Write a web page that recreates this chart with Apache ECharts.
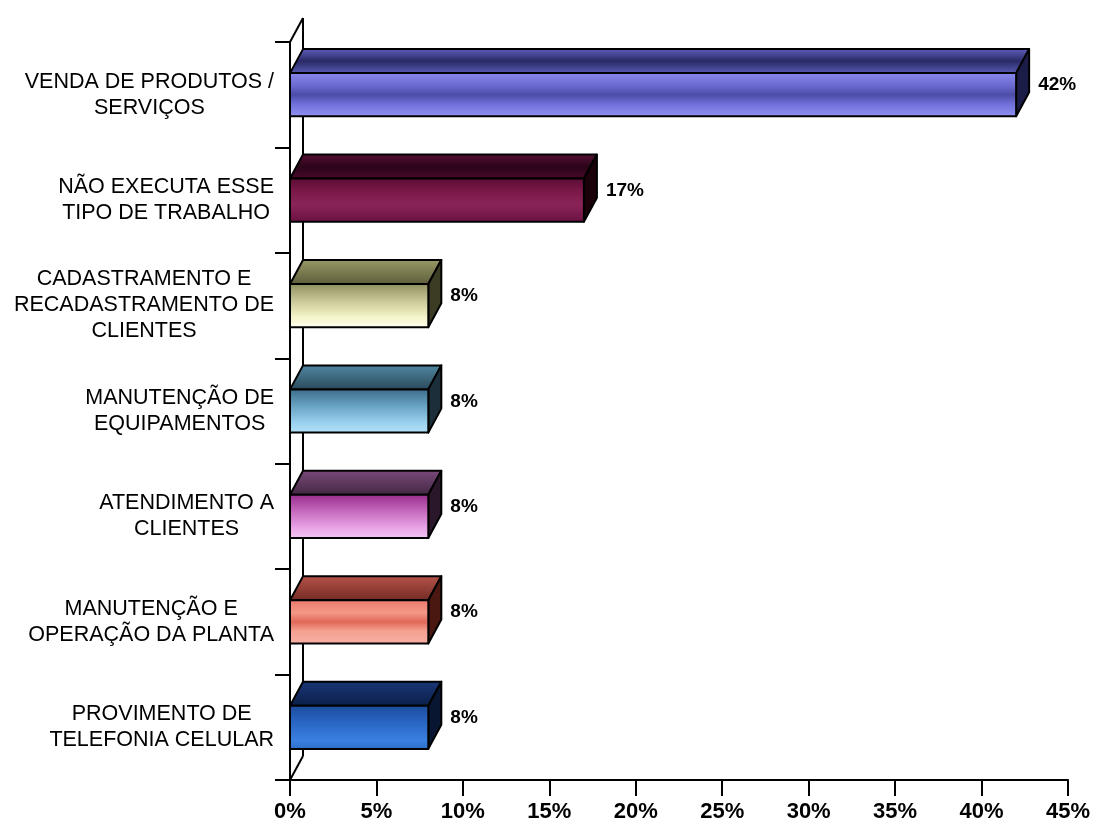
<!DOCTYPE html>
<html>
<head>
<meta charset="utf-8">
<script src="https://cdn.jsdelivr.net/npm/echarts@6/dist/echarts.min.js"></script>
<style>
html,body{margin:0;padding:0;background:#fff;}
#chart{width:1094px;height:823px;}
</style>
</head>
<body>
<div id="chart"></div>
<script>
const categories = [
  'VENDA DE PRODUTOS /\nSERVIÇOS',
  'NÃO EXECUTA ESSE\nTIPO DE TRABALHO',
  'CADASTRAMENTO E\nRECADASTRAMENTO DE\nCLIENTES',
  'MANUTENÇÃO DE\nEQUIPAMENTOS',
  'ATENDIMENTO A\nCLIENTES',
  'MANUTENÇÃO E\nOPERAÇÃO DA PLANTA',
  'PROVIMENTO DE\nTELEFONIA CELULAR'
];
const values = [42, 17, 8, 8, 8, 8, 8];
const axisMin = 0, axisMax = 45, axisStep = 5;

// per-bar colours: [front stops], top, side
const barColors = [
  {front: [[0,'#8a8aee'],[0.3,'#6a6ad0'],[0.5,'#4c4ca8'],[0.7,'#6e6ed8'],[1,'#9494f4']], top: [[0,'#6060c0'],[0.5,'#2a2a66'],[1,'#5c5cb8']], side: '#1c1c48'},
  {front: [[0,'#5a0c34'],[0.3,'#7a1848'],[0.6,'#8a2458'],[1,'#6a1040']], top: [[0,'#5a1036'],[0.5,'#2a0418'],[1,'#4a0a2a']], side: '#1a0008'},
  {front: [[0,'#8c8c5c'],[0.4,'#c8c898'],[0.75,'#f4f4c8'],[1,'#fffff2']], top: [[0,'#9a9a68'],[1,'#5c5c3a']], side: '#3c3c24'},
  {front: [[0,'#3a6a86'],[0.4,'#6aa4c4'],[0.75,'#98d0ee'],[1,'#b4e2f8']], top: [[0,'#5088a2'],[1,'#2a485a']], side: '#1c2e3a'},
  {front: [[0,'#962a8c'],[0.4,'#c86cc0'],[0.75,'#e8a4e6'],[1,'#f4c8f2']], top: [[0,'#7a4a7a'],[1,'#422642']], side: '#2a182a'},
  {front: [[0,'#e87868'],[0.3,'#f49888'],[0.5,'#e06858'],[0.7,'#f4a090'],[1,'#f8b0a4']], top: [[0,'#b8544a'],[1,'#702a24']], side: '#4a1810'},
  {front: [[0,'#1a4a9c'],[0.4,'#2a66c4'],[0.8,'#3a80e0'],[1,'#2c6cc8']], top: [[0,'#1a3878'],[1,'#0a1e48']], side: '#081632'}
];

const DX = 13, DY = -24;
const FONT = 'Liberation Sans, Arial, sans-serif';

function grad(stops) {
  return new echarts.graphic.LinearGradient(0, 0, 0, 1,
    stops.map(s => ({offset: s[0], color: s[1]})));
}

const chart = echarts.init(document.getElementById('chart'));

const barData = values.map((v, i) => [v, i]);

chart.setOption({
  backgroundColor: '#ffffff',
  animation: false,
  grid: {left: 290, right: 26, top: 42, bottom: 43, containLabel: false},
  xAxis: {
    type: 'value',
    min: axisMin, max: axisMax, interval: axisStep,
    axisLine: {show: true, lineStyle: {color: '#000', width: 2}},
    axisTick: {show: true, length: 16, lineStyle: {color: '#000', width: 2}},
    splitLine: {show: false},
    axisLabel: {
      formatter: '{value}%',
      fontFamily: 'Liberation Sans Narrow, Liberation Sans, Arial, sans-serif',
      fontWeight: 'bold', fontSize: 22, color: '#000', margin: 21
    }
  },
  yAxis: {
    type: 'category',
    data: categories,
    inverse: true,
    axisLine: {show: true, lineStyle: {color: '#000', width: 2}},
    axisTick: {show: true, length: 15, lineStyle: {color: '#000', width: 2}},
    splitLine: {show: false},
    axisLabel: {
      margin: 16,
      fontFamily: FONT,
      fontSize: 21.5, lineHeight: 26, color: '#000',
      formatter: function (val) {
        return val.split('\n').map(l => '{c|' + l + '}').join('\n');
      },
      rich: {
        c: {align: 'center', fontFamily: FONT, fontSize: 21.5, lineHeight: 26, color: '#000'}
      }
    }
  },
  series: [
    {
      type: 'custom',
      z: 1,
      silent: true,
      data: [[0, 0]],
      renderItem: function (params, api) {
        const cs = params.coordSys;
        const x = cs.x, top = cs.y, bot = cs.y + cs.height;
        const st = {stroke: '#000', lineWidth: 2, fill: null};
        return {
          type: 'group',
          children: [
            {type: 'line', shape: {x1: x + DX, y1: top + DY, x2: x + DX, y2: bot + DY}, style: st},
            {type: 'line', shape: {x1: x, y1: top, x2: x + DX, y2: top + DY}, style: st},
            {type: 'line', shape: {x1: x, y1: bot, x2: x + DX, y2: bot + DY}, style: st}
          ]
        };
      }
    },
    {
      type: 'custom',
      z: 2,
      data: barData,
      encode: {x: 0, y: 1},
      renderItem: function (params, api) {
        const v = api.value(0), c = api.value(1);
        const p0 = api.coord([0, c]);
        const p1 = api.coord([v, c]);
        const band = api.size([0, 1])[1];
        const h = band * 0.41;
        const x0 = p0[0], x1 = p1[0], y0 = p0[1] - h / 2, y1 = y0 + h;
        const col = barColors[params.dataIndex];
        const edge = {stroke: '#000', lineWidth: 2, lineJoin: 'round'};
        return {
          type: 'group',
          children: [
            {type: 'polygon', shape: {points: [[x0, y0], [x1, y0], [x1 + DX, y0 + DY], [x0 + DX, y0 + DY]]},
             style: Object.assign({fill: grad(col.top)}, edge)},
            {type: 'polygon', shape: {points: [[x1, y0], [x1 + DX, y0 + DY], [x1 + DX, y1 + DY], [x1, y1]]},
             style: Object.assign({fill: col.side}, edge)},
            {type: 'rect', shape: {x: x0, y: y0, width: x1 - x0, height: h},
             style: Object.assign({fill: grad(col.front)}, edge)},
            {type: 'text', x: x1 + DX + 9, y: y0 + 12,
             style: {text: v + '%', fill: '#000', fontSize: 19, fontWeight: 'bold', fontFamily: FONT,
                     textAlign: 'left', textVerticalAlign: 'middle'}}
          ]
        };
      }
    }
  ]
});
</script>
</body>
</html>
